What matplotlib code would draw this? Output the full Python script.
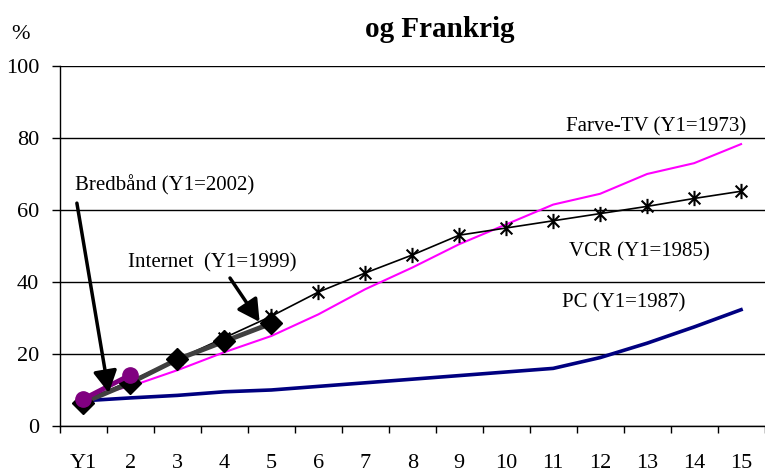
import matplotlib.pyplot as plt
from matplotlib.path import Path
from matplotlib.ticker import FixedLocator

plt.rcParams['font.family'] = ['Liberation Serif', 'DejaVu Serif']

# data
categories = ['Y1', '2', '3', '4', '5', '6', '7', '8', '9', '10',
              '11', '12', '13', '14', '15']
pc = [7, 7.8, 8.5, 9.5, 10, 11, 12, 13, 14, 15, 16, 19, 23, 27.5, 32.3]
farve_tv = [8, 11, 15.5, 20.5, 25, 31, 38, 44, 50.5, 56, 61.5, 64.5, 70, 73, 78.3]
vcr = [7, 12.5, 18.5, 24.5, 30.5, 37.2, 42.5, 47.5, 53, 55, 57, 59, 61, 63.2, 65.2]
internet = [6.5, 12, 18.5, 23.5, 28.5]
bredbaand = [7.5, 14.2]

x = list(range(1, len(categories) + 1))

# asterisk marker (X + vertical bar)
star = Path([(-1, -1), (1, 1), (-1, 1), (1, -1), (0, -1.3), (0, 1.3)],
            [Path.MOVETO, Path.LINETO, Path.MOVETO, Path.LINETO,
             Path.MOVETO, Path.LINETO])

fig = plt.figure(figsize=(7.65, 4.73), dpi=100)
ax = fig.add_axes([0.0784, 0.0994, 0.921, 0.7611])

ax.plot(x, pc, color='#000080', lw=2.6, zorder=3)
ax.plot(x, farve_tv, color='#FF00FF', lw=1.5, zorder=3)
ax.plot(x, vcr, color='black', lw=1.2, marker=star, ms=11, mew=1.5,
        mfc='none', mec='black', zorder=4)
ax.plot(x[:len(internet)], internet, color='#404040', lw=3.5, marker='D',
        ms=11, mfc='black', mec='black', zorder=5)
ax.plot(x[:len(bredbaand)], bredbaand, color='#800080', lw=3.5, marker='o',
        ms=11, mfc='#800080', mec='#800080', zorder=6)

# labels
fs = 15
ax.text(0.82, 66.9, 'Bredbånd (Y1=2002)', fontsize=fs, va='center', ha='left')
ax.text(1.95, 45.3, 'Internet  (Y1=1999)', fontsize=fs, va='center', ha='left')
ax.text(15.12, 83, 'Farve-TV (Y1=1973)', fontsize=fs, va='center', ha='right')
ax.text(11.33, 48.3, 'VCR (Y1=1985)', fontsize=fs, va='center', ha='left')
ax.text(11.18, 34.2, 'PC (Y1=1987)', fontsize=fs, va='center', ha='left')

arrow = dict(arrowstyle='-|>,head_length=0.55,head_width=0.3', color='black',
             lw=2.5, mutation_scale=24, shrinkA=0, shrinkB=0)
ax.annotate('', xy=(1.54, 9.2), xytext=(0.86, 61.9), arrowprops=arrow, zorder=7)
ax.annotate('', xy=(4.75, 28.9), xytext=(4.12, 41.1), arrowprops=arrow, zorder=7)

# axes
ax.set_xlim(0.5, len(categories) + 0.5)
ax.set_ylim(0, 100)
ax.set_xticks(x)
ax.set_xticklabels(categories)
ax.xaxis.set_minor_locator(FixedLocator([i + 0.5 for i in range(0, len(categories) + 1)]))
ax.tick_params(axis='x', which='major', length=0, pad=20, labelsize=16)
ax.tick_params(axis='x', which='minor', length=5, width=1, direction='out')
ax.set_yticks([0, 20, 40, 60, 80, 100])
ax.tick_params(axis='y', length=6, width=1, direction='out', pad=9, labelsize=16)
ax.yaxis.grid(True, color='black', lw=1)
ax.set_axisbelow(True)
for s in ['right', 'top']:
    ax.spines[s].set_visible(False)
ax.spines['left'].set_linewidth(1)
ax.spines['bottom'].set_linewidth(1)

fig.text(0.575, 0.938, 'og Frankrig', fontsize=21, fontweight='bold',
         ha='center', va='center')
fig.text(0.027, 0.928, '%', fontsize=16, ha='center', va='center')

fig.savefig('out.png', dpi=100)
